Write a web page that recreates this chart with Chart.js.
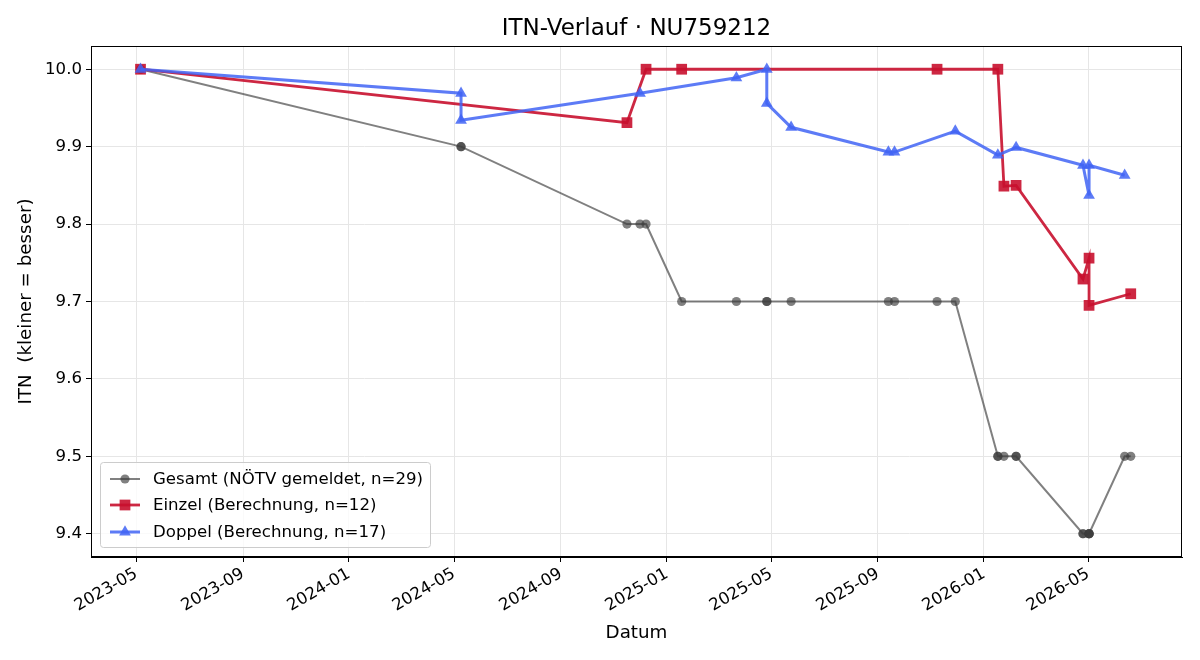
<!DOCTYPE html>
<html>
<head>
<meta charset="utf-8">
<title>ITN-Verlauf</title>
<script src="https://cdn.jsdelivr.net/npm/chart.js@4"></script>
<style>
  body { margin: 0; background: #fff; }
  canvas { display: block; }
</style>
</head>
<body>
<canvas id="itnChart" width="1200" height="660"></canvas>
<script>
// data
const gesamtDates = ['2023-05-06','2023-05-06','2024-05-09','2024-05-09','2024-11-16','2024-12-01','2024-12-08',
  '2025-01-18','2025-03-22','2025-04-26','2025-04-26','2025-05-24','2025-09-13','2025-09-20','2025-11-08',
  '2025-11-29','2026-01-17','2026-01-17','2026-01-24','2026-02-07','2026-02-07','2026-04-25','2026-04-25',
  '2026-05-02','2026-05-02','2026-05-02','2026-05-02','2026-06-12','2026-06-19'];
const gesamtValues = [10.0,10.0,9.9,9.9,9.8,9.8,9.8,
  9.7,9.7,9.7,9.7,9.7,9.7,9.7,9.7,
  9.7,9.5,9.5,9.5,9.5,9.5,9.4,9.4,
  9.4,9.4,9.4,9.4,9.5,9.5];

const einzelDates = ['2023-05-06','2024-11-16','2024-12-08','2025-01-18','2025-11-08','2026-01-17',
  '2026-01-24','2026-02-07','2026-04-25','2026-05-02','2026-05-02','2026-06-19'];
const einzelValues = [10.0,9.931,10.0,10.0,10.0,10.0,9.849,9.850,9.729,9.756,9.695,9.710];

const doppelDates = ['2023-05-06','2024-05-09','2024-05-09','2024-12-01','2025-03-22','2025-04-26','2025-04-26',
  '2025-05-24','2025-09-13','2025-09-20','2025-11-29','2026-01-17','2026-02-07','2026-04-25','2026-05-02',
  '2026-05-02','2026-06-12'];
const doppelValues = [10.0,9.969,9.934,9.969,9.989,10.0,9.956,9.925,9.893,9.893,9.920,9.889,9.899,9.876,9.837,9.876,9.863];

const xTickMonths = ['2023-05','2023-09','2024-01','2024-05','2024-09','2025-01','2025-05','2025-09','2026-01','2026-05'];
const yTicks = [9.4, 9.5, 9.6, 9.7, 9.8, 9.9, 10.0];

const FONT = "'DejaVu Sans', sans-serif";
const TICK_SIZE = 16.6;

function toMs(s) {
  const p = s.split('-').map(Number);
  return Date.UTC(p[0], p[1] - 1, p[2] || 1);
}
function points(dates, values) {
  return dates.map((d, i) => ({ x: toMs(d), y: values[i] }));
}

const datasets = [
  {
    label: 'Gesamt (NÖTV gemeldet, n=29)',
    data: points(gesamtDates, gesamtValues),
    borderColor: 'rgba(60,60,60,0.65)',
    backgroundColor: 'rgba(60,60,60,0.65)',
    borderWidth: 2,
    pointStyle: 'circle',
    pointRadius: 4.6,
    pointBorderWidth: 0,
    order: 3
  },
  {
    label: 'Einzel (Berechnung, n=12)',
    data: points(einzelDates, einzelValues),
    borderColor: 'rgba(200,16,46,0.9)',
    backgroundColor: 'rgba(200,16,46,0.9)',
    borderWidth: 2.8,
    pointStyle: 'rect',
    pointRadius: 7.6,
    pointBorderWidth: 0,
    order: 2
  },
  {
    label: 'Doppel (Berechnung, n=17)',
    data: points(doppelDates, doppelValues),
    borderColor: 'rgba(65,100,245,0.85)',
    backgroundColor: 'rgba(65,100,245,0.85)',
    borderWidth: 3,
    pointStyle: 'triangle',
    pointRadius: 6.8,
    pointBorderWidth: 0,
    order: 1
  }
];

// frame, title, axis labels and legend drawn like matplotlib
const decorations = {
  id: 'decorations',
  afterDraw(chart) {
    const ctx = chart.ctx;
    const a = chart.chartArea;
    ctx.save();
    ctx.strokeStyle = '#000';
    ctx.lineWidth = 1;
    ctx.strokeRect(a.left + 0.5, a.top + 0.5, a.right - a.left - 1, a.bottom - a.top - 1);

    ctx.fillStyle = '#000';
    ctx.textAlign = 'center';
    ctx.textBaseline = 'middle';
    ctx.font = '23px ' + FONT;
    ctx.fillText('ITN-Verlauf · NU759212', (a.left + a.right) / 2, 29);

    ctx.font = '18.3px ' + FONT;
    ctx.fillText('Datum', (a.left + a.right) / 2, 633);
    ctx.save();
    ctx.translate(26, (a.top + a.bottom) / 2);
    ctx.rotate(-Math.PI / 2);
    ctx.fillText('ITN  (kleiner = besser)', 0, 0);
    ctx.restore();

    // legend
    const lx = 100, ly = 462, lw = 330, lh = 85;
    ctx.beginPath();
    ctx.roundRect(lx + 0.5, ly + 0.5, lw, lh, 3);
    ctx.fillStyle = 'rgba(255,255,255,0.8)';
    ctx.fill();
    ctx.strokeStyle = '#cccccc';
    ctx.lineWidth = 1;
    ctx.stroke();
    const rows = [479, 505, 532];
    chart.data.datasets.forEach((ds, i) => {
      const y = rows[i];
      ctx.strokeStyle = ds.borderColor;
      ctx.lineWidth = ds.borderWidth;
      ctx.beginPath();
      ctx.moveTo(110, y);
      ctx.lineTo(140, y);
      ctx.stroke();
      ctx.fillStyle = ds.backgroundColor;
      Chart.helpers.drawPoint(ctx, { pointStyle: ds.pointStyle, radius: ds.pointRadius, borderWidth: 0 }, 125, y);
      ctx.fillStyle = '#000';
      ctx.textAlign = 'left';
      ctx.font = TICK_SIZE + 'px ' + FONT;
      ctx.fillText(ds.label, 153, y + 1);
    });
    ctx.restore();
  }
};

const ctx = document.getElementById('itnChart').getContext('2d');
new Chart(ctx, {
  type: 'line',
  data: { datasets: datasets },
  options: {
    responsive: false,
    animation: false,
    devicePixelRatio: 1,
    layout: { padding: { top: 46, right: 18, left: 0, bottom: 0 } },
    plugins: {
      legend: { display: false },
      title: { display: false },
      tooltip: { enabled: false }
    },
    scales: {
      x: {
        type: 'linear',
        min: toMs('2023-03-10'),
        max: toMs('2026-08-17'),
        afterBuildTicks: scale => {
          scale.ticks = xTickMonths.map(m => ({ value: toMs(m) }));
        },
        afterFit: scale => { scale.height = 103; },
        ticks: {
          autoSkip: false,
          minRotation: 30,
          maxRotation: 30,
          padding: 2,
          color: '#000',
          font: { family: FONT, size: TICK_SIZE },
          callback: v => {
            const d = new Date(v);
            return d.getUTCFullYear() + '-' + String(d.getUTCMonth() + 1).padStart(2, '0');
          }
        },
        grid: { color: '#e6e6e6', tickColor: '#000', tickLength: 5, lineWidth: 1 },
        border: { color: '#000', width: 1 }
      },
      y: {
        min: 9.37,
        max: 10.03,
        afterBuildTicks: scale => {
          scale.ticks = yTicks.map(v => ({ value: v }));
        },
        afterFit: scale => { scale.width = 91; },
        ticks: {
          padding: 4,
          color: '#000',
          font: { family: FONT, size: TICK_SIZE },
          callback: v => v.toFixed(1)
        },
        grid: { color: '#e6e6e6', tickColor: '#000', tickLength: 5, lineWidth: 1 },
        border: { color: '#000', width: 1 }
      }
    }
  },
  plugins: [decorations]
});
</script>
</body>
</html>
